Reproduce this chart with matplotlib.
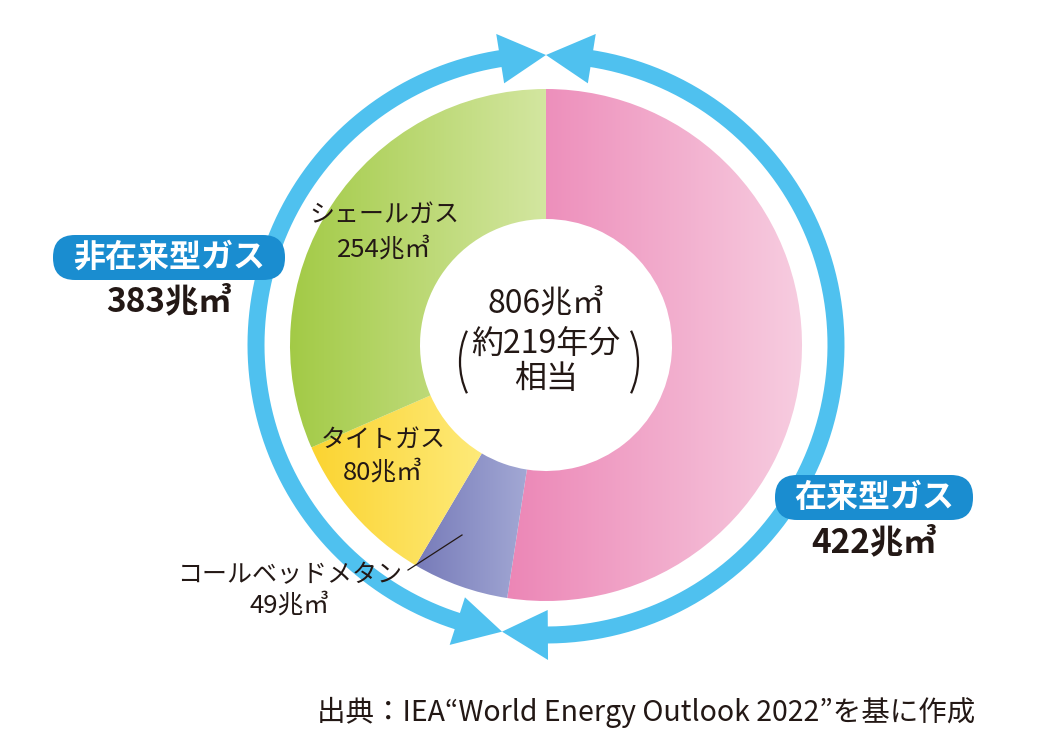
import numpy as np
import matplotlib.pyplot as plt
from matplotlib.patches import FancyBboxPatch, Polygon, Arc
from matplotlib.colors import LinearSegmentedColormap

plt.rcParams['font.family'] = ['Noto Sans CJK JP', 'DejaVu Sans']

# data (兆㎥)
segments = ['在来型ガス', 'コールベッドメタン', 'タイトガス', 'シェールガス']
volumes = [422, 49, 80, 254]
total_label = '806兆㎥'
years_label = '約219年分'
source = '出典：IEA“World Energy Outlook 2022”を基に作成'

# gradient colours, left -> right
left_colors = ['#ec86b6', '#777bb9', '#fbd431', '#a2ca45']
right_colors = ['#f7cde0', '#aab0d9', '#fff294', '#d3e6a0']

W, H = 1056, 756
ink = '#231815'
blue = '#4fc1ef'
dark_blue = '#1a8dd0'

fig = plt.figure(figsize=(10.56, 7.56), dpi=100)
ax = fig.add_axes([0, 0, 1, 1])

def Y(py):
    return H - py

cx, cy = 546, Y(345)
R = 256

# donut
wedges, _ = ax.pie(volumes, radius=R, center=(cx, cy), startangle=90,
                   counterclock=False, frame=True,
                   wedgeprops=dict(width=130, linewidth=0))

grad = np.linspace(0, 1, 256).reshape(1, -1)
for wdg, c0, c1 in zip(wedges, left_colors, right_colors):
    wdg.set_facecolor('none')
    v = wdg.get_path().vertices
    cmap = LinearSegmentedColormap.from_list('g', [c0, c1])
    im = ax.imshow(grad, cmap=cmap, aspect='auto', zorder=1,
                   extent=[v[:, 0].min(), v[:, 0].max(), v[:, 1].min(), v[:, 1].max()])
    im.set_clip_path(wdg)

# blue arrows round the ring
ring_r = 290
head_len = 46
head_hw = 25
da = np.degrees(head_len / ring_r)
top = 90
split = 90 - 360 * volumes[0] / sum(volumes)

def arc_line(a0, a1):
    t = np.radians(np.linspace(a0, a1, 200))
    ax.plot(cx + ring_r * np.cos(t), cy + ring_r * np.sin(t), color=blue,
            lw=17 * 0.72, solid_capstyle='butt', zorder=3)

def head(t, base):
    pts = []
    for r, a in [(ring_r, t), (ring_r - head_hw, base), (ring_r + head_hw, base)]:
        a = np.radians(a)
        pts.append((cx + r * np.cos(a), cy + r * np.sin(a)))
    ax.add_patch(Polygon(pts, closed=True, color=blue, lw=0, zorder=3))

arc_line(split + da * 0.8, top - da * 0.8)
arc_line(split - da * 0.8, top - 360 + da * 0.8)
head(top, top - da)
head(top, top + da)
head(split, split + da)
head(split, split - da)

# pill labels
def pill(x0, x1, y0, y1, text, value, vy):
    ax.add_patch(FancyBboxPatch((x0, Y(y1)), x1 - x0, y1 - y0,
                                boxstyle='round,pad=0,rounding_size=22',
                                fc=dark_blue, ec='none', zorder=4))
    ax.text((x0 + x1) / 2, Y((y0 + y1) / 2), text, color='white', fontsize=23,
            fontweight='bold', ha='center', va='center', zorder=5)
    ax.text((x0 + x1) / 2, Y(vy), f'{value}兆㎥', color=ink, fontsize=24,
            fontweight='bold', ha='center', va='center', zorder=5)

pill(53, 285, 235, 280, '非' + segments[0], sum(volumes[1:]), 302)
pill(775, 973, 475, 520, segments[0], volumes[0], 543)

# segment labels
seg_pos = {3: (384, 215, 250), 2: (383, 440, 473), 1: (290, 575, 606)}
for i, (x, y1, y2) in seg_pos.items():
    ax.text(x, Y(y1), segments[i], color=ink, fontsize=18, ha='center', va='center', zorder=5)
    ax.text(x, Y(y2), f'{volumes[i]}兆㎥', color=ink, fontsize=18.5, ha='center', va='center', zorder=5)
ax.plot([408, 462], [Y(570), Y(535)], color=ink, lw=0.9, zorder=5)

# centre
ax.text(cx, Y(304), total_label, color=ink, fontsize=23, ha='center', va='center', zorder=5)
ax.text(cx, Y(345), years_label, color=ink, fontsize=23, ha='center', va='center', zorder=5)
ax.text(cx, Y(379), '相当', color=ink, fontsize=23, ha='center', va='center', zorder=5)
ax.add_patch(Arc((460 + 74, Y(362)), 148, 148, theta1=155, theta2=205, color=ink, lw=1.6, zorder=5))
ax.add_patch(Arc((638 - 74, Y(362)), 148, 148, theta1=-25, theta2=25, color=ink, lw=1.6, zorder=5))

# source
ax.text(975, Y(712), source, color=ink, fontsize=20.5, ha='right', va='center')

ax.set_xlim(0, W)
ax.set_ylim(0, H)
ax.set_aspect('equal')
ax.axis('off')

fig.savefig('out.png', dpi=100, facecolor='white')
